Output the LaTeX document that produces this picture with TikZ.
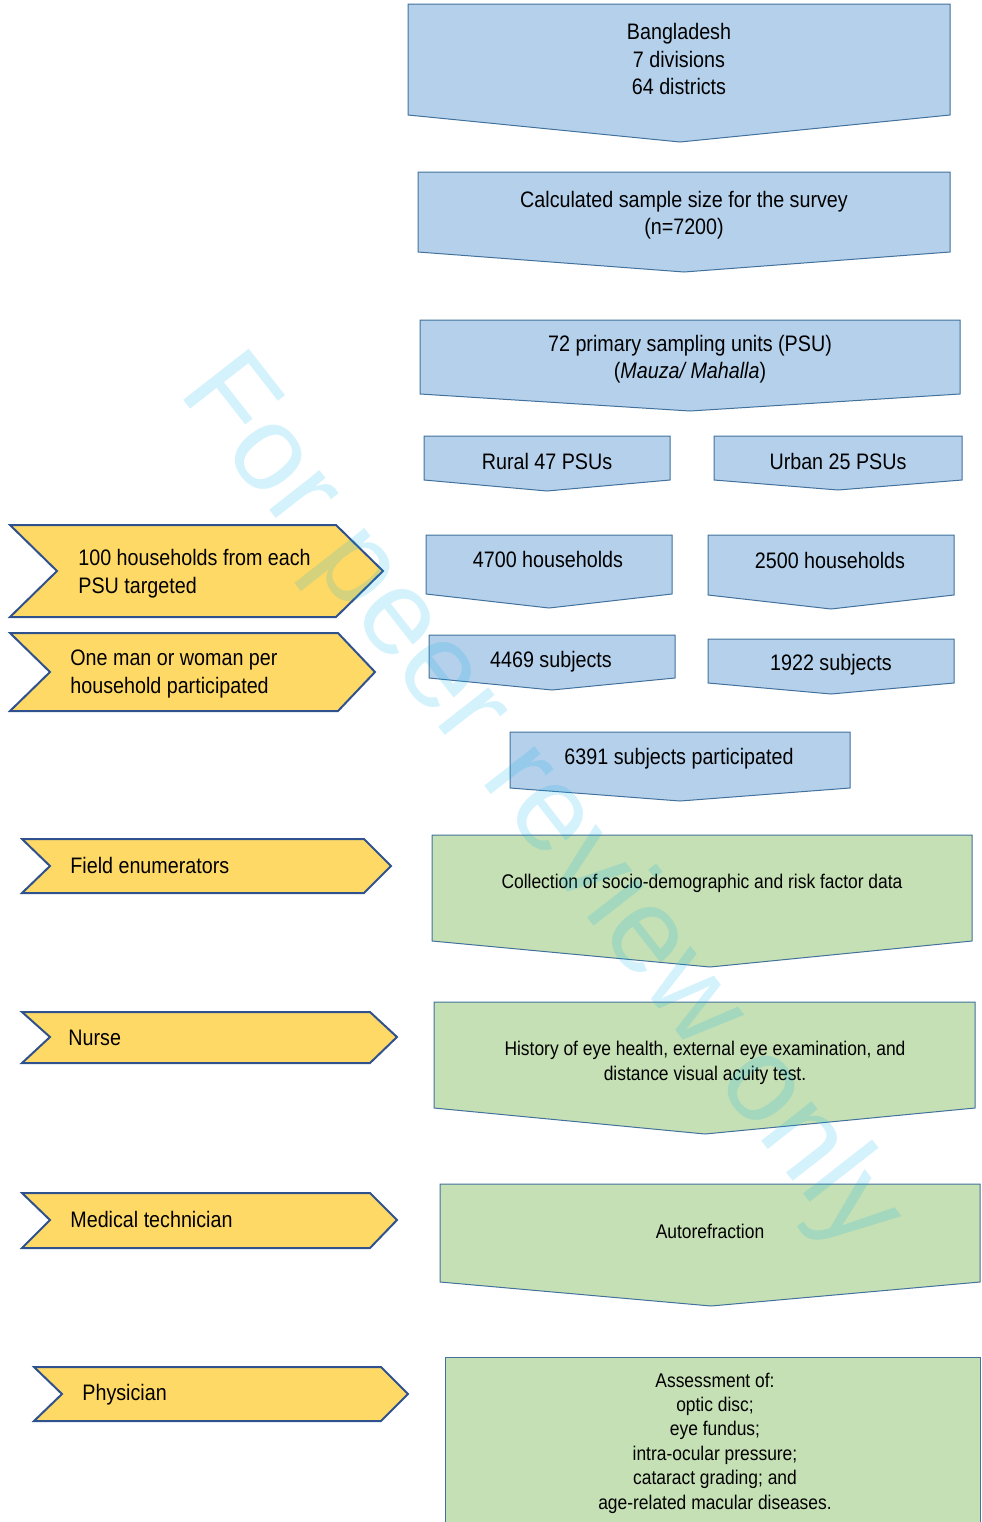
\documentclass[tikz,border=0pt]{standalone}
\usepackage{fontspec}
\setmainfont{Liberation Sans}[FakeStretch=0.88]
\newfontfamily\markfont{Liberation Sans}
\usepackage{tikz}
\usetikzlibrary{positioning}
\usepackage{xcolor}
\definecolor{stagefill}{HTML}{B4D0EB}
\definecolor{examfill}{HTML}{C5E0B4}
\definecolor{rolefill}{HTML}{FFD966}
\definecolor{stageline}{HTML}{41719C}
\definecolor{roleline}{HTML}{2F528F}
\definecolor{markcyan}{HTML}{00B0F0}
\tikzset{
  every node/.style={inner sep=0pt, font=\fontsize{11.2}{13.75}\selectfont},
  stagebox/.style={fill=stagefill, draw=stageline, line width=0.5pt},
  exambox/.style={fill=examfill, draw=stageline, line width=0.5pt},
  rolebox/.style={fill=rolefill, draw=roleline, line width=1pt},
  stagetext/.style={align=center},
  examtext/.style={align=center, font=\fontsize{9.9}{12.2}\selectfont},
  roletext/.style={align=left, anchor=west, font=\fontsize{11.2}{14}\selectfont},
  watermark/.style={font=\markfont\fontsize{60.5}{62}\selectfont, text=markcyan, opacity=0.17}
}

\begin{document}
\begin{tikzpicture}[x=0.5pt, y=-0.5pt]
    \useasboundingbox (0,0) rectangle (981,1522);
    % sampling stages
    \draw[stagebox] (408,4) -- (950,4) -- (950,115) -- (680,142) -- (408,115) -- cycle;
    \node[stagetext] (country) at (679,59) {Bangladesh\\7 divisions\\64 districts};
    \draw[stagebox] (418,172) -- (950,172) -- (950,252) -- (684,272) -- (418,252) -- cycle;
    \node[stagetext] (sample) at (684,215) {Calculated sample size for the survey\\(n=7200)};
    \draw[stagebox] (420,320) -- (960,320) -- (960,394) -- (690,411) -- (420,394) -- cycle;
    \node[stagetext] (psu) at (690,359) {72 primary sampling units (PSU)\\(\textit{Mauza/ Mahalla})};
    \draw[stagebox] (424,436) -- (670,436) -- (670,480) -- (547,491) -- (424,480) -- cycle;
    \node[stagetext] (rural) at (547,461) {Rural 47 PSUs};
    \draw[stagebox] (714,436) -- (962,436) -- (962,480) -- (838,490) -- (714,480) -- cycle;
    \node[stagetext] (urban) at (838,461) {Urban 25 PSUs};
    \draw[stagebox] (426,535) -- (672,535) -- (672,594) -- (549,608) -- (426,594) -- cycle;
    \node[stagetext] (ruralhh) at (548,559) {4700 households};
    \draw[stagebox] (708,535) -- (954,535) -- (954,595) -- (831,609) -- (708,595) -- cycle;
    \node[stagetext] (urbanhh) at (830,560) {2500 households};
    \draw[stagebox] (429,635) -- (675,635) -- (675,678) -- (552,690) -- (429,678) -- cycle;
    \node[stagetext] (ruralsub) at (551,662) {4469 subjects};
    \draw[stagebox] (708,639) -- (954,639) -- (954,683) -- (831,694) -- (708,683) -- cycle;
    \node[stagetext] (urbansub) at (831,665) {1922 subjects};
    \draw[stagebox] (510,732) -- (850,732) -- (850,788) -- (680,801) -- (510,788) -- cycle;
    \node[stagetext] (total) at (679,759) {6391 subjects participated};
    % examination steps
    \draw[exambox] (432,835) -- (972,835) -- (972,941) -- (710,967) -- (432,941) -- cycle;
    \node[examtext] (survey) at (702,883) {Collection of socio-demographic and risk factor data};
    \draw[exambox] (434,1002) -- (975,1002) -- (975,1108) -- (705,1134) -- (434,1108) -- cycle;
    \node[examtext] (history) at (705,1063) {History of eye health, external eye examination, and\\distance visual acuity test.};
    \draw[exambox] (440,1184) -- (980,1184) -- (980,1282) -- (711,1306) -- (440,1282) -- cycle;
    \node[examtext] (refraction) at (710,1231) {Autorefraction};
    \draw[exambox] (445,1530) -- (445,1357) -- (980,1357) -- (980,1530);
    \node[examtext] (assessment) at (715,1443) {Assessment of:\\optic disc;\\eye fundus;\\intra-ocular pressure;\\cataract grading; and\\age-related macular diseases.};
    % staff and targets
    \draw[rolebox] (10,525) -- (336,525) -- (383,571) -- (336,617) -- (10,617) -- (57,571) -- cycle;
    \node[roletext] (target) at (78,574) {100 households from each\\PSU targeted};
    \draw[rolebox] (10,633) -- (338,633) -- (375,672) -- (338,711) -- (10,711) -- (50,672) -- cycle;
    \node[roletext] (member) at (70,674) {One man or woman per\\household participated};
    \draw[rolebox] (22,839) -- (364,839) -- (391,866) -- (364,893) -- (22,893) -- (50,866) -- cycle;
    \node[roletext] (enumerator) at (70,865) {Field enumerators};
    \draw[rolebox] (22,1012) -- (370,1012) -- (397,1037) -- (370,1063) -- (22,1063) -- (50,1037) -- cycle;
    \node[roletext] (nurse) at (68,1038) {Nurse};
    \draw[rolebox] (22,1193) -- (370,1193) -- (397,1220) -- (370,1248) -- (22,1248) -- (50,1220) -- cycle;
    \node[roletext] (technician) at (70,1219) {Medical technician};
    \draw[rolebox] (34,1367) -- (381,1367) -- (408,1394) -- (381,1421) -- (34,1421) -- (62,1394) -- cycle;
    \node[roletext] (physician) at (82,1395) {Physician};
    % overlay
    \node[watermark, rotate=-52, anchor=base west] (mark) at (177,392) {For peer review only};
\end{tikzpicture}
\end{document}
